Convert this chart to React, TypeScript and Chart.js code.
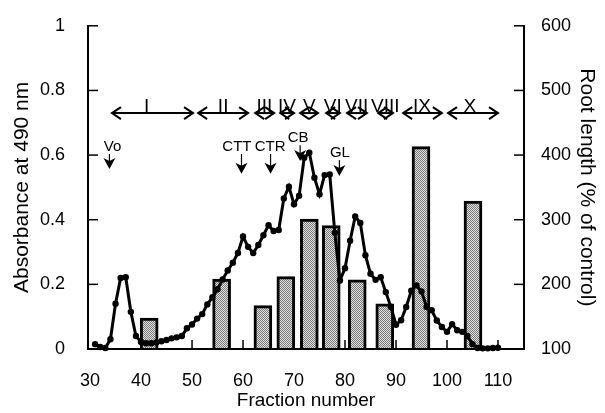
import React, { useEffect, useRef } from 'react';
import { Chart, registerables } from 'chart.js';

Chart.register(...registerables);

// ---- data ----
const fractions = [
  31, 32, 33, 34, 35, 36, 37, 38, 39, 40,
  41, 42, 43, 44, 45, 46, 47, 48, 49, 50,
  51, 52, 53, 54, 55, 56, 57, 58, 59, 60,
  61, 62, 63, 64, 65, 66, 67, 68, 69, 70,
  71, 72, 73, 74, 75, 76, 77, 78, 79, 80,
  81, 82, 83, 84, 85, 86, 87, 88, 89, 90,
  91, 92, 93, 94, 95, 96, 97, 98, 99, 100,
  101, 102, 103, 104, 105, 106, 107, 108, 109, 110,
];
const absorbance = [
  0.015, 0.006, 0.003, 0.03, 0.14, 0.22, 0.222, 0.115, 0.04, 0.022,
  0.018, 0.018, 0.02, 0.024, 0.028, 0.033, 0.036, 0.04, 0.064, 0.076,
  0.094, 0.108, 0.138, 0.16, 0.185, 0.215, 0.243, 0.267, 0.297, 0.348,
  0.316, 0.297, 0.322, 0.352, 0.383, 0.365, 0.368, 0.466, 0.502, 0.448,
  0.474, 0.592, 0.607, 0.53, 0.479, 0.538, 0.54, 0.36, 0.212, 0.25,
  0.335, 0.41, 0.39, 0.29, 0.233, 0.214, 0.222, 0.176, 0.13, 0.075,
  0.089, 0.13, 0.18, 0.197, 0.178, 0.13, 0.12, 0.088, 0.068, 0.053,
  0.077, 0.058, 0.053, 0.04, 0.015, 0.003, 0.002, 0.002, 0.003, 0.004,
];
const barFractions = [41.6, 55.8, 63.9, 68.4, 73, 77.3, 82.4, 87.8, 94.9, 105.1];
const rootLength = [148, 208, 167, 212, 301, 291, 207, 170, 413, 329];

const xTicks = [30, 40, 50, 60, 70, 80, 90, 100, 110];
const yTicks = [0, 0.2, 0.4, 0.6, 0.8, 1];
const yTickLabels = ['0', '0.2', '0.4', '0.6', '0.8', '1'];
const y2Ticks = [100, 200, 300, 400, 500, 600];

const peakNames = ['I', 'II', 'III', 'IV', 'V', 'VI', 'VII', 'VIII', 'IX', 'X'];
const peakStart = [34.3, 51.2, 62.4, 67.3, 71.2, 76.3, 80.4, 86.5, 91.4, 100.2];
const peakEnd = [50.2, 61, 66.1, 70, 74.7, 79, 84.3, 89.4, 99, 110];
const peakLabelAt = [41.1, 56.1, 64.2, 68.6, 73, 77.6, 82.3, 87.9, 95.1, 104.5];

const markerNames = ['Vo', 'CTT', 'CTR', 'CB', 'GL'];
const markerFractions = [33.8, 59.7, 65.4, 71.2, 78.9];
const markerLabelAt = [34.4, 58.8, 65.3, 70.8, 79];
const markerLabelLevel = [0.625, 0.625, 0.625, 0.652, 0.606];
const markerTipLevel = [0.557, 0.542, 0.542, 0.582, 0.535];

const peakArrowLevel = 0.73;
const FONT = "'Liberation Sans', Arial, Helvetica, sans-serif";

const overlayPlugin = {
  id: 'overlay',
  beforeDatasetsDraw(chart: any) {
    const { ctx, scales } = chart;
    const x = scales.x;
    const y = scales.y;
    const y0 = y.getPixelForValue(0);
    ctx.save();
    ctx.strokeStyle = '#000';
    ctx.lineWidth = 1.5;
    xTicks.slice(1).forEach((v) => {
      const px = x.getPixelForValue(v);
      ctx.beginPath();
      ctx.moveTo(px, y0);
      ctx.lineTo(px, y0 - 9);
      ctx.stroke();
    });
    ctx.restore();
  },
  afterDraw(chart: any) {
    const { ctx, chartArea, scales } = chart;
    const x = scales.x;
    const y = scales.y;
    const y2 = scales.y2;
    ctx.save();
    ctx.strokeStyle = '#000';
    ctx.fillStyle = '#000';
    ctx.lineWidth = 1.5;
    const seg = (a: number, b: number, c: number, d: number) => {
      ctx.beginPath();
      ctx.moveTo(a, b);
      ctx.lineTo(c, d);
      ctx.stroke();
    };
    yTicks.slice(1).forEach((v) => {
      const py = y.getPixelForValue(v);
      seg(chartArea.left, py, chartArea.left + 10, py);
    });
    y2Ticks.slice(1).forEach((v) => {
      const py = y2.getPixelForValue(v);
      seg(chartArea.right - 10, py, chartArea.right, py);
    });

    // peak range double arrows
    const ay = y.getPixelForValue(peakArrowLevel);
    ctx.lineWidth = 2;
    ctx.font = `19px ${FONT}`;
    ctx.textAlign = 'center';
    ctx.textBaseline = 'alphabetic';
    peakNames.forEach((name, i) => {
      const x1 = x.getPixelForValue(peakStart[i]);
      const x2 = x.getPixelForValue(peakEnd[i]);
      seg(x1, ay, x2, ay);
      ctx.beginPath();
      ctx.moveTo(x1 + 9, ay - 6);
      ctx.lineTo(x1, ay);
      ctx.lineTo(x1 + 9, ay + 6);
      ctx.moveTo(x2 - 9, ay - 6);
      ctx.lineTo(x2, ay);
      ctx.lineTo(x2 - 9, ay + 6);
      ctx.stroke();
      ctx.fillText(name, x.getPixelForValue(peakLabelAt[i]), ay - 1.5);
    });

    // marker arrows
    ctx.font = `15px ${FONT}`;
    ctx.textBaseline = 'middle';
    ctx.lineWidth = 1.2;
    markerNames.forEach((name, i) => {
      const px = x.getPixelForValue(markerFractions[i]);
      const ly = y.getPixelForValue(markerLabelLevel[i]);
      const ty = y.getPixelForValue(markerTipLevel[i]);
      ctx.fillText(name, x.getPixelForValue(markerLabelAt[i]), ly);
      seg(px, ly + 7, px, ty - 6);
      ctx.beginPath();
      ctx.moveTo(px, ty);
      ctx.lineTo(px - 6, ty - 11);
      ctx.lineTo(px, ty - 8);
      ctx.lineTo(px + 6, ty - 11);
      ctx.closePath();
      ctx.fill();
    });
    ctx.restore();
  },
};

export default function App() {
  const ref = useRef<HTMLCanvasElement | null>(null);

  useEffect(() => {
    document.body.style.margin = '0';
    const canvas = ref.current;
    if (!canvas) return;
    const ctx = canvas.getContext('2d')!;

    const pc = document.createElement('canvas');
    pc.width = 2;
    pc.height = 2;
    const g = pc.getContext('2d')!;
    g.fillStyle = '#e0e0e0';
    g.fillRect(0, 0, 2, 2);
    g.fillStyle = '#7a7a7a';
    g.fillRect(0, 0, 1, 1);
    g.fillRect(1, 1, 1, 1);
    const pattern = ctx.createPattern(pc, 'repeat');

    Chart.defaults.font.family = FONT;
    Chart.defaults.color = '#000';

    const chart = new Chart(canvas, {
      type: 'bar',
      data: {
        datasets: [
          {
            type: 'line',
            label: 'Absorbance',
            data: fractions.map((f, i) => ({ x: f, y: absorbance[i] })),
            yAxisID: 'y',
            borderColor: '#000',
            borderWidth: 3,
            pointRadius: 3.2,
            pointBackgroundColor: '#000',
            pointBorderWidth: 0,
            tension: 0,
            clip: false,
            order: 0,
          } as any,
          {
            type: 'bar',
            label: 'Root length',
            data: barFractions.map((f, i) => ({ x: f, y: rootLength[i] })),
            yAxisID: 'y2',
            base: 100,
            backgroundColor: pattern as any,
            borderColor: '#000',
            borderWidth: 3,
            barThickness: 18,
            grouped: false,
            order: 1,
          } as any,
        ],
      },
      options: {
        animation: false,
        responsive: false,
        maintainAspectRatio: false,
        layout: { padding: { top: 24, left: 0, right: 0, bottom: 0 } },
        plugins: { legend: { display: false }, tooltip: { enabled: false } },
        scales: {
          x: {
            type: 'linear',
            min: 29.6,
            max: 115.1,
            offset: false,
            grid: { display: false },
            border: { display: true, color: '#000', width: 2, z: 1 },
            afterBuildTicks: (s: any) => {
              s.ticks = xTicks.map((v) => ({ value: v }));
            },
            afterFit: (s: any) => {
              s.height = 64;
            },
            ticks: {
              font: { size: 18 },
              color: '#000',
              padding: 13,
              maxRotation: 0,
              autoSkip: false,
              callback: (v: any) => String(v),
            },
            title: {
              display: true,
              text: 'Fraction number',
              font: { size: 19 },
              color: '#000',
              padding: { top: 0, bottom: 0.5 },
            },
          },
          y: {
            type: 'linear',
            position: 'left',
            min: 0,
            max: 1,
            grid: { display: false },
            border: { display: true, color: '#000', width: 2, z: 1 },
            afterBuildTicks: (s: any) => {
              s.ticks = yTicks.map((v) => ({ value: v }));
            },
            afterFit: (s: any) => {
              s.width = 88;
            },
            ticks: {
              font: { size: 18 },
              color: '#000',
              padding: 15,
              callback: (_v: any, i: number) => yTickLabels[i],
            },
            title: {
              display: true,
              text: 'Absorbance at 490 nm',
              font: { size: 21 },
              color: '#000',
              padding: { top: 9.5, bottom: 0 },
            },
          },
          y2: {
            type: 'linear',
            position: 'right',
            min: 100,
            max: 600,
            grid: { display: false },
            border: { display: true, color: '#000', width: 2, z: 1 },
            afterBuildTicks: (s: any) => {
              s.ticks = y2Ticks.map((v) => ({ value: v }));
            },
            afterFit: (s: any) => {
              s.width = 81;
            },
            ticks: {
              font: { size: 18 },
              color: '#000',
              padding: 9,
              callback: (v: any) => String(v),
            },
            title: {
              display: true,
              text: 'Root length (% of control)',
              font: { size: 21 },
              color: '#000',
              padding: { top: 5.5, bottom: 0 },
            },
          },
        },
      } as any,
      plugins: [overlayPlugin],
    });

    return () => {
      chart.destroy();
    };
  }, []);

  return (
    <div style={{ width: 605, height: 413 }}>
      <canvas ref={ref} width={605} height={413} style={{ display: 'block', width: 605, height: 413 }} />
    </div>
  );
}
